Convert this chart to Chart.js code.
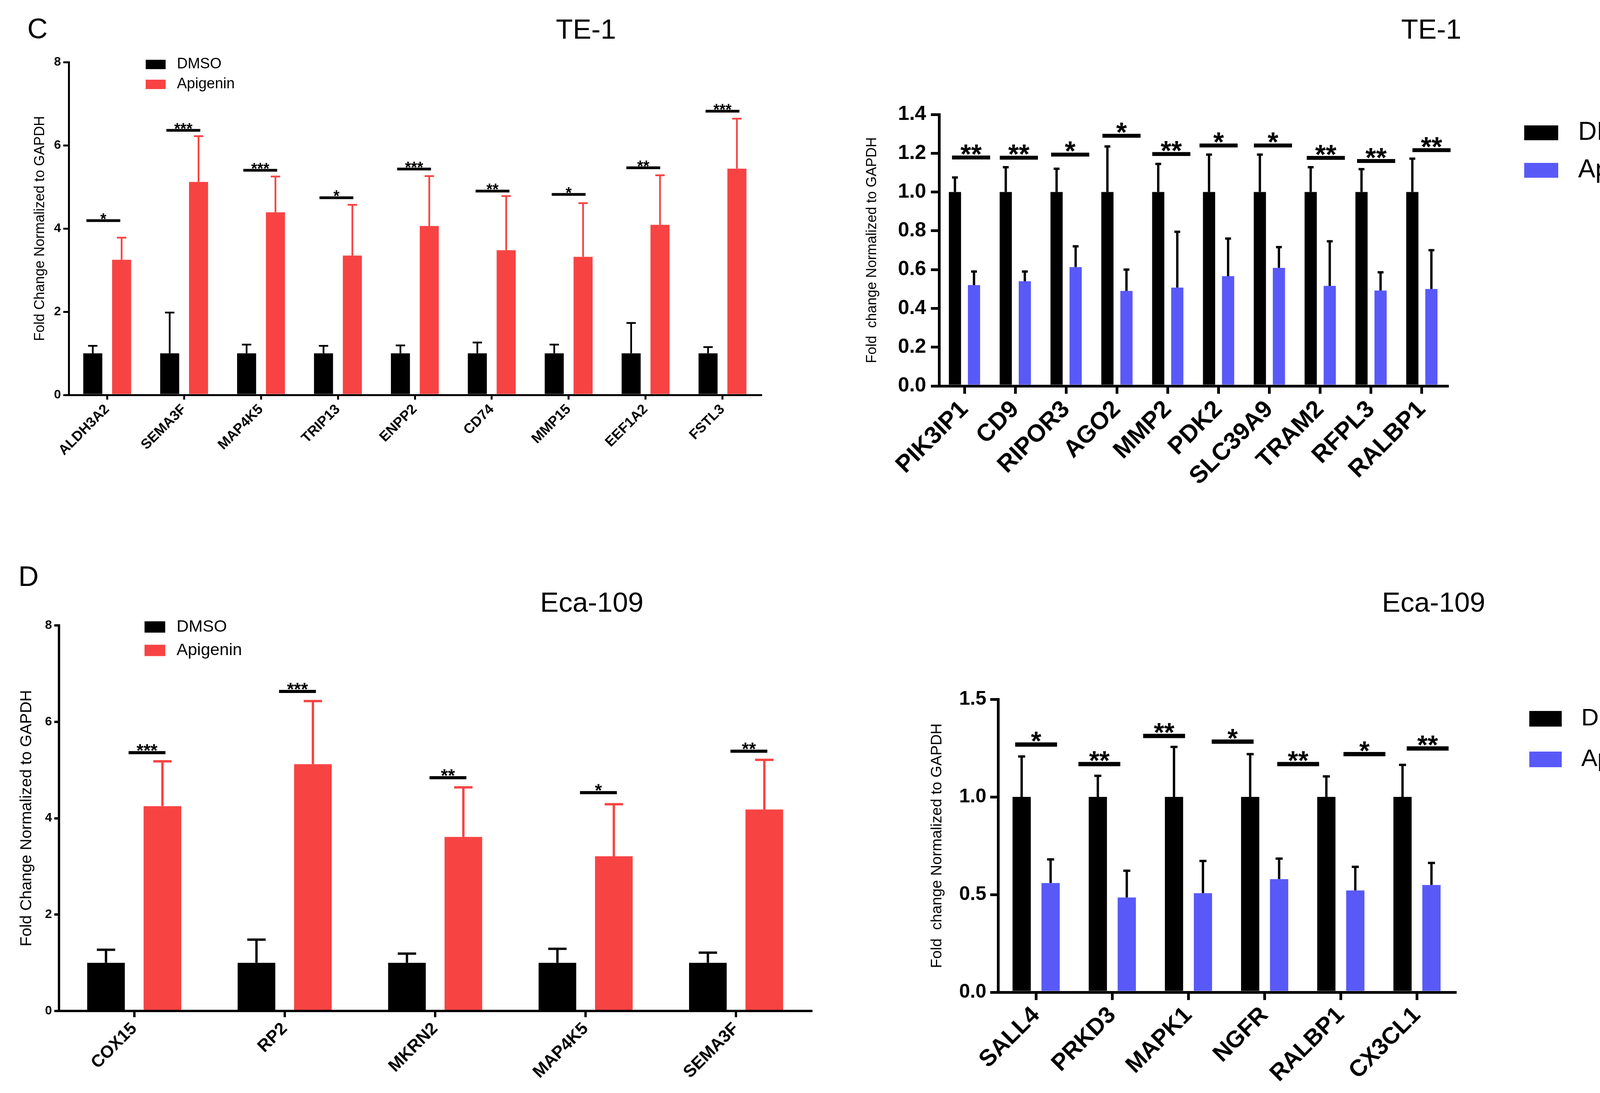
<!DOCTYPE html>
<html><head><meta charset="utf-8">
<script src="https://cdn.jsdelivr.net/npm/chart.js"></script>
<style>
html,body{margin:0;padding:0;background:#fff;width:4325px;height:2798px;overflow:hidden;}
canvas{position:absolute;}
.lbl{position:absolute;line-height:1;color:#000;white-space:nowrap;font-family:'Liberation Sans',Arial,sans-serif;transform:translateX(-50%);z-index:5;}
</style></head><body>
<canvas id="c1" width="2160" height="1400" style="left:0px;top:0px"></canvas>
<canvas id="c2" width="2165" height="1400" style="left:2160px;top:0px"></canvas>
<canvas id="c3" width="2160" height="1398" style="left:0px;top:1400px"></canvas>
<canvas id="c4" width="2165" height="1398" style="left:2160px;top:1400px"></canvas>
<div class="lbl" style="left:96px;top:37px;font-size:72px">C</div>
<div class="lbl" style="left:1500px;top:39px;font-size:71px">TE-1</div>
<div class="lbl" style="left:3664px;top:39px;font-size:71px">TE-1</div>
<div class="lbl" style="left:73px;top:1439px;font-size:72px">D</div>
<div class="lbl" style="left:1515px;top:1506px;font-size:71px">Eca-109</div>
<div class="lbl" style="left:3670px;top:1506px;font-size:71px">Eca-109</div>
<script>
// ---------- DATA ----------
const seriesNames = ['DMSO', 'Apigenin'];

// Panel C left (TE-1)
const genes1 = ['ALDH3A2','SEMA3F','MAP4K5','TRIP13','ENPP2','CD74','MMP15','EEF1A2','FSTL3'];
const dmso1 = [1,1,1,1,1,1,1,1,1];
const dmsoSD1 = [0.18,0.98,0.21,0.18,0.19,0.26,0.21,0.73,0.15];
const apig1 = [3.25,5.12,4.39,3.35,4.06,3.48,3.32,4.09,5.44];
const apigSD1 = [0.53,1.10,0.86,1.22,1.20,1.30,1.29,1.19,1.20];
const sigY1 = [4.19,6.36,5.40,4.74,5.43,4.90,4.82,5.46,6.82];
const sigPos1 = [-0.05,0.99,1.99,2.98,3.99,5.01,6.0,6.97,8.0];
const stars1 = ['*','***','***','*','***','**','*','**','***'];
const yTicks1 = {min:0, max:8, step:2};

// Panel C right (TE-1)
const genes2 = ['PIK3IP1','CD9','RIPOR3','AGO2','MMP2','PDK2','SLC39A9','TRAM2','RFPL3','RALBP1'];
const dmso2 = [1,1,1,1,1,1,1,1,1,1];
const dmsoSD2 = [0.075,0.128,0.12,0.235,0.145,0.193,0.193,0.128,0.118,0.172];
const apig2 = [0.52,0.54,0.613,0.49,0.507,0.566,0.609,0.516,0.492,0.50];
const apigSD2 = [0.07,0.05,0.107,0.11,0.288,0.194,0.107,0.23,0.094,0.20];
const sigY2 = [1.178,1.177,1.193,1.29,1.196,1.24,1.24,1.176,1.16,1.216];
const sigPos2 = [0.13,1.07,2.08,3.09,4.07,5.0,6.07,7.11,8.1,9.19];
const stars2 = ['**','**','*','*','**','*','*','**','**','**'];
const yTicks2 = {min:0, max:1.4, step:0.2};

// Panel D left (Eca-109)
const genes3 = ['COX15','RP2','MKRN2','MAP4K5','SEMA3F'];
const dmso3 = [1,1,1,1,1];
const dmsoSD3 = [0.27,0.48,0.19,0.29,0.21];
const apig3 = [4.25,5.12,3.61,3.21,4.18];
const apigSD3 = [0.93,1.31,1.03,1.08,1.03];
const sigY3 = [5.36,6.63,4.84,4.53,5.39];
const sigPos3 = [0.085,1.085,2.085,3.085,4.085];
const stars3 = ['***','***','**','*','**'];
const yTicks3 = {min:0, max:8, step:2};

// Panel D right (Eca-109)
const genes4 = ['SALL4','PRKD3','MAPK1','NGFR','RALBP1','CX3CL1'];
const dmso4 = [1,1,1,1,1,1];
const dmsoSD4 = [0.207,0.108,0.256,0.219,0.105,0.164];
const apig4 = [0.559,0.485,0.507,0.579,0.521,0.549];
const apigSD4 = [0.121,0.137,0.165,0.105,0.121,0.113];
const sigY4 = [1.268,1.168,1.312,1.283,1.168,1.219,1.248];
const sigPos4 = [0,0.83,1.68,2.58,3.44,4.31,5.14];
const stars4 = ['*','**','**','*','**','*','**'];
const yTicks4 = {min:0, max:1.5, step:0.5};

// ---------- STYLE ----------
const FONT = "'Liberation Sans', Arial, sans-serif";
const BLACK = '#000000';
const RED = '#F84343';
const BLUE = '#5959F8';

const annotPlugin = {
  id: 'annot',
  afterDatasetsDraw(chart, args, o) {
    const ctx = chart.ctx, xs = chart.scales.x, ys = chart.scales.y;
    ctx.save();
    chart.data.datasets.forEach((ds, di) => {
      const meta = chart.getDatasetMeta(di);
      const sd = o.err[di];
      ctx.strokeStyle = o.errColor[di];
      ctx.fillStyle = o.errColor[di];
      ctx.lineWidth = o.errWidth;
      meta.data.forEach((bar, i) => {
        const top = ys.getPixelForValue(ds.data[i] + sd[i]);
        ctx.beginPath();
        ctx.moveTo(bar.x, bar.y);
        ctx.lineTo(bar.x, top);
        ctx.stroke();
        ctx.fillRect(bar.x - o.capW / 2, top - o.capThick / 2, o.capW, o.capThick);
      });
    });
    const s = o.sig;
    const catW = xs.getPixelForValue(1) - xs.getPixelForValue(0);
    ctx.fillStyle = BLACK;
    ctx.font = 'bold ' + s.fontSize + 'px ' + FONT;
    ctx.textAlign = 'center';
    ctx.textBaseline = 'alphabetic';
    s.pos.forEach((p, i) => {
      const cx = xs.getPixelForValue(p);
      const cy = ys.getPixelForValue(s.val[i]);
      const w = s.width * catW;
      ctx.fillRect(cx - w / 2, cy - s.thick / 2, w, s.thick);
      ctx.fillText(s.stars[i], cx, cy - s.thick / 2 - s.gap + s.fontSize * 0.42);
    });
    ctx.restore();
  },
  afterDraw(chart, args, o) {
    const L = o.legend, ctx = chart.ctx;
    ctx.save();
    chart.data.datasets.forEach((ds, i) => {
      const cy = L.rows[i];
      ctx.fillStyle = ds.backgroundColor;
      ctx.fillRect(L.boxX, cy - L.boxH / 2, L.boxW, L.boxH);
      ctx.fillStyle = BLACK;
      ctx.font = L.fontSize + 'px ' + FONT;
      ctx.textAlign = 'left';
      ctx.textBaseline = 'middle';
      ctx.fillText(ds.label, L.textX, cy);
    });
    ctx.restore();
  }
};

function makeChart(id, p) {
  return new Chart(document.getElementById(id), {
    type: 'bar',
    data: {
      labels: p.labels,
      datasets: [
        {label: seriesNames[0], data: p.d1, backgroundColor: BLACK, borderWidth: 0,
         categoryPercentage: p.catPct, barPercentage: p.barPct},
        {label: seriesNames[1], data: p.d2, backgroundColor: p.color2, borderWidth: 0,
         categoryPercentage: p.catPct, barPercentage: p.barPct}
      ]
    },
    options: {
      responsive: false, animation: false, devicePixelRatio: 1,
      layout: {padding: p.padding},
      plugins: {
        legend: {display: false}, tooltip: {enabled: false}, title: {display: false},
        annot: {
          err: [p.sd1, p.sd2], errColor: [BLACK, p.errColor2],
          errWidth: p.errWidth, capW: p.capW, capThick: p.capThick,
          sig: {pos: p.sigPos, val: p.sigY, stars: p.stars, width: p.sigW, thick: p.sigThick, fontSize: p.starSize, gap: p.starGap},
          legend: p.legend
        }
      },
      scales: {
        x: {
          type: 'category', offset: true,
          afterFit(s) { s.height = p.xH; },
          border: {display: true, color: BLACK, width: p.lw},
          grid: {display: true, drawOnChartArea: false, offset: false, drawTicks: true, tickLength: p.xTick, color: BLACK, lineWidth: p.lw},
          ticks: {autoSkip: false, minRotation: 45, maxRotation: 45, color: BLACK, padding: p.xPad,
                  font: {family: FONT, size: p.xFs, weight: 'bold'}}
        },
        y: {
          min: p.yt.min, max: p.yt.max,
          afterFit(s) { s.width = p.yW; },
          border: {display: true, color: BLACK, width: p.lw},
          grid: {display: true, drawOnChartArea: false, drawTicks: true, tickLength: p.yTick, color: BLACK, lineWidth: p.lw},
          ticks: {stepSize: p.yt.step, color: BLACK, padding: p.yPad,
                  font: {family: FONT, size: p.yFs, weight: 'bold'},
                  callback: (v) => p.dec ? Number(v).toFixed(p.dec) : String(Math.round(v))},
          title: {display: true, text: p.yTitle, color: BLACK,
                  font: {family: FONT, size: p.tFs, lineHeight: 1.2}, padding: {top: p.tPad, bottom: 0}}
        }
      }
    },
    plugins: [annotPlugin]
  });
}

makeChart('c1', {
  labels: genes1, d1: dmso1, d2: apig1, sd1: dmsoSD1, sd2: apigSD1, color2: RED, errColor2: RED,
  catPct: 0.75, barPct: 0.66,
  padding: {left: 0, top: 159, right: 212, bottom: 0}, yW: 176, xH: 389,
  lw: 5, xTick: 12, xPad: 4, xFs: 36, yTick: 14, yPad: 6, yFs: 32, dec: 0, yt: yTicks1,
  yTitle: 'Fold Change Normalized to GAPDH', tFs: 36, tPad: 81,
  errWidth: 4.5, capW: 24, capThick: 4.5,
  sigPos: sigPos1, sigY: sigY1, stars: stars1, sigW: 0.44, sigThick: 7, starSize: 40, starGap: 4,
  legend: {boxX: 373, boxW: 51, boxH: 24, rows: [165, 216], textX: 453, fontSize: 38}
});

makeChart('c2', {
  labels: genes2, d1: dmso2, d2: apig2, sd1: dmsoSD2, sd2: apigSD2, color2: BLUE, errColor2: BLACK,
  catPct: 0.75, barPct: 0.64,
  padding: {left: 0, top: 293, right: 620, bottom: 0}, yW: 244, xH: 412,
  lw: 7, xTick: 20, xPad: 4, xFs: 62, yTick: 21, yPad: 12, yFs: 52, dec: 1, yt: yTicks2,
  yTitle: 'Fold  change Normalized to GAPDH', tFs: 36, tPad: 51,
  errWidth: 6, capW: 15, capThick: 6,
  sigPos: sigPos2, sigY: sigY2, stars: stars2, sigW: 0.75, sigThick: 10, starSize: 70, starGap: 9,
  legend: {boxX: 1742, boxW: 87, boxH: 38, rows: [340, 436], textX: 1880, fontSize: 66}
});

makeChart('c3', {
  labels: genes3, d1: dmso3, d2: apig3, sd1: dmsoSD3, sd2: apigSD3, color2: RED, errColor2: RED,
  catPct: 0.75, barPct: 0.667,
  padding: {left: 0, top: 201, right: 83, bottom: 0}, yW: 151, xH: 210,
  lw: 6, xTick: 16, xPad: 4, xFs: 44, yTick: 12, yPad: 6, yFs: 32, dec: 0, yt: yTicks3,
  yTitle: 'Fold Change Normalized to GAPDH', tFs: 41, tPad: 44,
  errWidth: 6, capW: 47, capThick: 6,
  sigPos: sigPos3, sigY: sigY3, stars: stars3, sigW: 0.245, sigThick: 8, starSize: 46, starGap: 5,
  legend: {boxX: 370, boxW: 53, boxH: 29, rows: [205, 265], textX: 452, fontSize: 43}
});

makeChart('c4', {
  labels: genes4, d1: dmso4, d2: apig4, sd1: dmsoSD4, sd2: apigSD4, color2: BLUE, errColor2: BLACK,
  catPct: 0.76, barPct: 0.63,
  padding: {left: 0, top: 390, right: 600, bottom: 0}, yW: 395, xH: 258,
  lw: 7, xTick: 20, xPad: 4, xFs: 60, yTick: 20, yPad: 10, yFs: 50, dec: 1, yt: yTicks4,
  yTitle: 'Fold  change Normalized to GAPDH', tFs: 39, tPad: 216,
  errWidth: 6, capW: 18, capThick: 6,
  sigPos: sigPos4, sigY: sigY4, stars: stars4, sigW: 0.55, sigThick: 11, starSize: 68, starGap: 9,
  legend: {boxX: 1755, boxW: 83, boxH: 40, rows: [440, 544], textX: 1888, fontSize: 62}
});
</script>
</body></html>
